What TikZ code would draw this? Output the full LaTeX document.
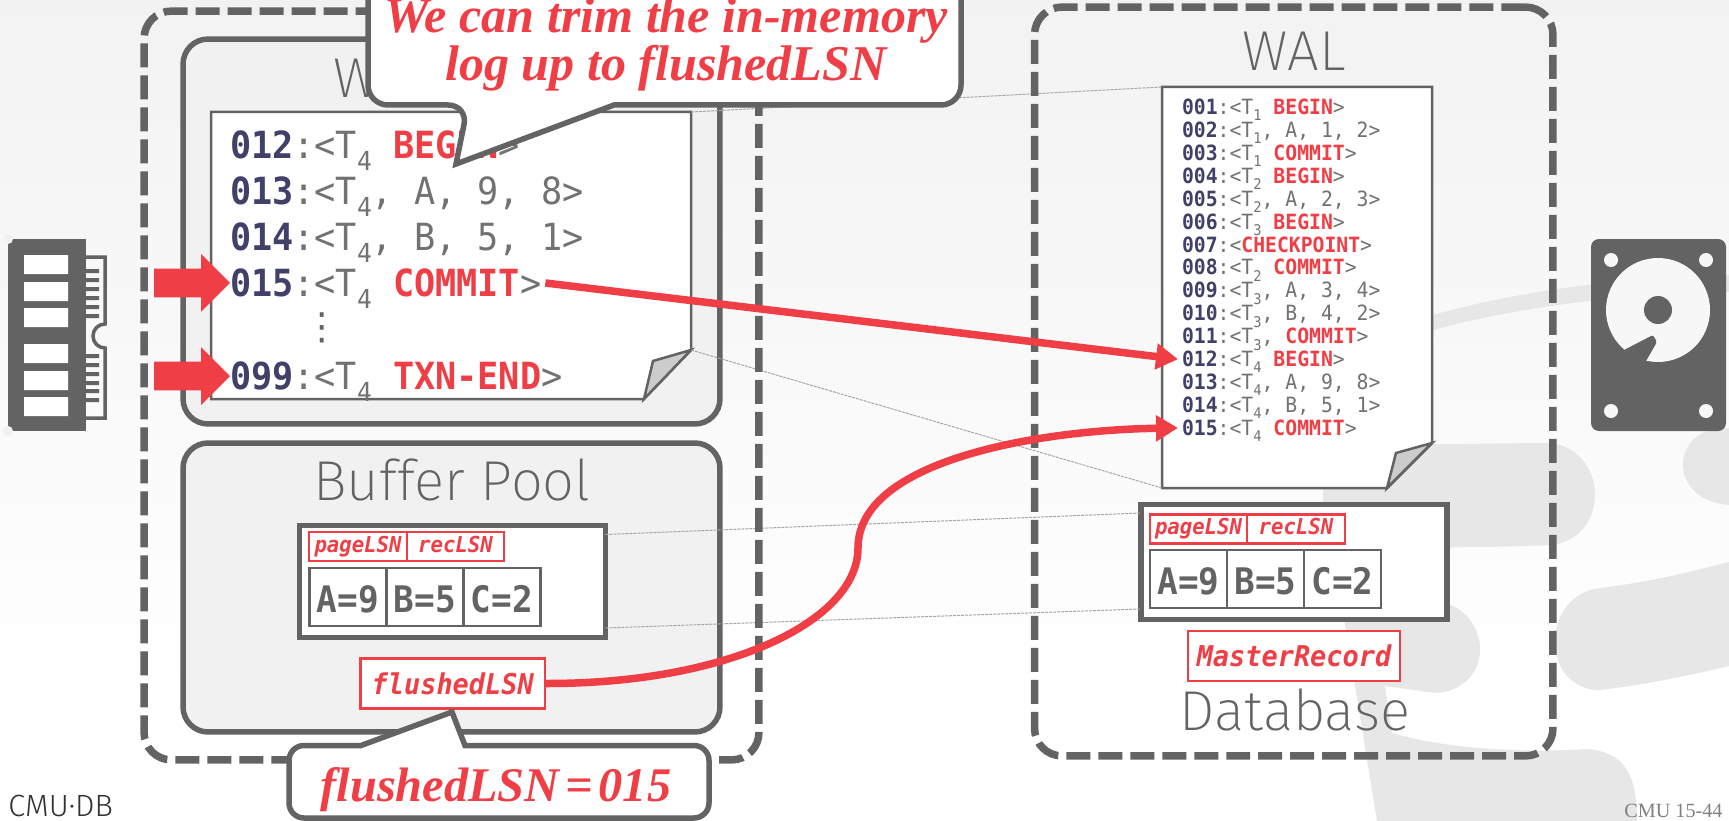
\documentclass[tikz,border=0pt]{standalone}
\usepackage{fontspec}
\usepackage{graphicx}
\usetikzlibrary{positioning,arrows.meta,shapes.arrows}
\setmainfont{Liberation Serif}
\setmonofont[FakeStretch=.94]{DejaVu Sans Mono}
\newfontfamily\slidethin{Fira Sans ExtraLight}
\newfontfamily\slidelogo{Fira Sans Light}
\newfontfamily\slidesym{DejaVu Sans}
\definecolor{slidegray}{HTML}{636363}
\definecolor{slidered}{HTML}{EF3E45}
\definecolor{lsnblue}{HTML}{404068}
\definecolor{boxfill}{HTML}{F1F1F1}
\definecolor{markgray}{HTML}{E7E7E7}
\newcommand{\lsn}[1]{\textcolor{lsnblue}{\bfseries #1}}
\newcommand{\kw}[1]{\textcolor{slidered}{\bfseries #1}}
\newcommand{\tsub}[1]{\raisebox{-.3em}{\scalebox{.7}{#1}}}
\newlength{\tightspace}
\setlength{\tightspace}{3.3pt}
\tikzset{
  outerbox/.style={draw=slidegray,line width=.15cm,rounded corners=.55cm,dash pattern=on .48cm off .16cm,inner sep=0pt,outer sep=0pt},
  bufbox/.style={draw=slidegray,line width=.11cm,rounded corners=.5cm,fill=boxfill,inner sep=0pt,outer sep=0pt},
  cachebox/.style={draw=slidegray,line width=.11cm,fill=white,inner sep=0pt,outer sep=0pt},
  sheet/.style={draw=slidegray,line width=.05cm,fill=white},
  sheetfold/.style={draw=slidegray,line width=.05cm,fill=gray!40},
  title/.style={font=\slidethin\fontsize{32}{36}\selectfont,text=slidegray,anchor=base,inner sep=0pt},
  memrow/.style={font=\ttfamily\fontsize{21.3}{25}\selectfont,text=slidegray!90,inner sep=0pt,outer sep=.08cm,text height=.56cm,text depth=0pt,anchor=west},
  walrow/.style={font=\ttfamily\fontsize{11.95}{14}\selectfont,text=slidegray!90,inner sep=0pt,outer sep=.08cm,text height=.3cm,text depth=0pt,anchor=west},
  lsnbox/.style={draw=slidered,line width=.045cm,fill=white,font=\ttfamily\bfseries\itshape\fontsize{12.5}{14}\selectfont,text=slidered,inner sep=0pt,outer sep=0pt,text height=.28cm,text depth=.06cm,minimum width=1.95cm,minimum height=.58cm},
  valbox/.style={draw=slidegray,line width=.05cm,fill=white,font=\ttfamily\bfseries\fontsize{20.8}{24}\selectfont,text=slidegray,inner sep=0pt,outer sep=0pt,text height=.64cm,text depth=0pt,minimum width=1.54cm,minimum height=1.16cm},
  metabox/.style={draw=slidered,line width=.05cm,fill=white,font=\ttfamily\bfseries\itshape\fontsize{16.3}{19}\selectfont,text=slidered,inner sep=0pt,outer sep=0pt,minimum height=1cm},
  blockarrow/.style={single arrow,fill=slidered,inner sep=0pt,outer sep=0pt,text height=.56cm,text depth=0pt,minimum height=1.52cm,single arrow head extend=.29cm,anchor=tip},
  flow/.style={draw=slidered,line width=.15cm,-{Triangle[length=.44cm,width=.5cm]}},
  linkline/.style={draw=gray!70,line width=.02cm,dash pattern=on .06cm off .02cm},
  callout/.style={draw=slidegray,line width=.11cm,fill=white},
  calltext/.style={font=\bfseries\itshape\fontsize{28.5}{27.3}\selectfont,text=slidered,inner sep=0pt}
}
\begin{document}
\begin{tikzpicture}[x=.02cm,y=-.02cm]
  \useasboundingbox (0,0) rectangle (1729,821);
  \clip (0,0) rectangle (1729,821);
  % backdrop
  \shade[top color=black!5,bottom color=white] (0,0) rectangle (1729,700);
  \fill[white] (0,700) rectangle (1729,821);
  \fill[markgray] (1433,315) .. controls (1500,296) and (1600,278) .. (1729,275) -- (1729,292) .. controls (1600,294) and (1500,312) .. (1433,330) -- cycle;
  \fill[markgray] (1323,443) .. controls (1400,446) and (1500,443) .. (1550,443) .. controls (1610,450) and (1610,540) .. (1550,545) .. controls (1480,548) and (1400,548) .. (1323,546) -- cycle;
  \fill[markgray] (1341,600) -- (1435,600) .. controls (1495,610) and (1495,690) .. (1435,693) -- (1385,686) -- (1392,733) .. controls (1450,750) and (1530,753) .. (1587,749) .. controls (1625,752) and (1637,775) .. (1637,821) -- (1377,821) -- cycle;
  \fill[markgray] (1600,588) .. controls (1650,582) and (1690,572) .. (1729,562) -- (1729,666) .. controls (1690,675) and (1650,684) .. (1600,690) .. controls (1540,690) and (1540,595) .. (1600,588) -- cycle;
  \fill[markgray] (1729,428) .. controls (1670,425) and (1665,500) .. (1729,505) -- cycle;

  % memory icon
  \fill[slidegray] (8,239) rectangle (86,431);
  \fill[boxfill] (8,239) circle (5) (8,431) circle (5);
  \fill[white] (24,255) rectangle (68,274) (24,282) rectangle (68,301) (24,308) rectangle (68,327);
  \fill[white] (24,344) rectangle (68,363) (24,371) rectangle (68,390) (24,397) rectangle (68,416);
  \draw[slidegray,line width=.07cm] (86,257) -- (105,257) -- (105,324) arc[start angle=90,end angle=270,radius=.24cm] -- (105,418) -- (86,418);
  \fill[slidegray] (86,269) rectangle (99,273) (86,278) rectangle (99,282) (86,287) rectangle (99,291);
  \fill[slidegray] (86,296) rectangle (99,300) (86,305) rectangle (99,309) (86,314) rectangle (99,318);
  \fill[slidegray] (86,354) rectangle (99,358) (86,363) rectangle (99,367) (86,372) rectangle (99,376);
  \fill[slidegray] (86,381) rectangle (99,385) (86,389) rectangle (99,393) (86,398) rectangle (99,402);

  % disk icon
  \fill[slidegray,rounded corners=.16cm] (1591,239) rectangle (1726,431);
  \fill[black!3] (1611,260) circle (7) (1706,260) circle (7) (1611,411) circle (7) (1706,411) circle (7);
  \fill[black!3] (1658,310) circle (52);
  \fill[slidegray] (1658,310) circle (14);
  \fill[slidegray,rounded corners=.04cm] (1624,350) -- (1653,335) -- (1657,342) -- (1646,361) -- (1630,380) -- (1605,365) -- cycle;

  % buffers
  \node[bufbox,minimum width=10.74cm,minimum height=7.7cm] (walbuf) at (451.5,231.5) {};
  \node[bufbox,minimum width=10.74cm,minimum height=5.78cm] (poolbuf) at (451.5,587.5) {};
  \node[title,anchor=base west] (waltitle) at (333,98) {W};
  \node[title] (pooltitle) at (452,500) {Buffer Pool};
  \node[title] (disktitle) at (1294,71) {WAL};
  \node[title] (dbtitle) at (1295,730) {Database};

  % log sheets
  \coordinate (memne) at (691,112);
  \coordinate (memfold) at (691,350);
  \coordinate (walnw) at (1162,87);
  \coordinate (walsw) at (1162,488);
  \draw[sheet] (211,112) -- (memne) -- (memfold) -- (644,399) -- (211,399) -- cycle;
  \draw[sheetfold] (memfold) -- (653,361) -- (644,399) -- cycle;
  \draw[sheet] (walnw) -- (1432,87) -- (1432,443) -- (1387,488) -- (walsw) -- cycle;
  \draw[sheetfold] (1432,443) -- (1396,453) -- (1387,488) -- cycle;

  % pages
  \node[cachebox,minimum width=6.12cm,minimum height=2.24cm] (mempage) at (452.5,581.5) {};
  \node[lsnbox] (mempagelsn) at (358,546.5) {pageLSN};
  \node[lsnbox,right=0pt of mempagelsn] (memreclsn) {recLSN};
  \node[valbox] (memA) at (348,597) {A=9};
  \node[valbox,right=0pt of memA] (memB) {B=5};
  \node[valbox,right=0pt of memB] (memC) {C=2};
  \node[cachebox,minimum width=6.13cm,minimum height=2.3cm] (dbpage) at (1294,562) {};
  \node[lsnbox] (dbpagelsn) at (1198.5,529) {pageLSN};
  \node[lsnbox,right=0pt of dbpagelsn] (dbreclsn) {recLSN};
  \node[valbox] (dbA) at (1188.5,579) {A=9};
  \node[valbox,right=0pt of dbA] (dbB) {B=5};
  \node[valbox,right=0pt of dbB] (dbC) {C=2};
  \node[metabox,minimum width=3.69cm] (flushed) at (452.75,683.5) {flushedLSN};
  \node[metabox,minimum width=4.24cm] (master) at (1294,656) {MasterRecord};

  % links between the two sides
  \draw[linkline] (memne) -- (walnw);
  \draw[linkline] (memfold) -- (walsw);
  \draw[linkline] ([yshift=-.18cm]mempage.north east) -- ([yshift=-.17cm]dbpage.north west);
  \draw[linkline] ([yshift=.19cm]mempage.south east) -- ([yshift=.21cm]dbpage.south west);

  % stable storage
  \node[outerbox,minimum width=12.3cm,minimum height=14.98cm] (memside) at (451.5,385.5) {};
  \node[outerbox,minimum width=10.37cm,minimum height=14.98cm] (diskside) at (1293.75,381.5) {};

  % in-memory log
  \node[memrow] (m012) at (226,145) {\lsn{012}:<T\tsub{4} \kw{BEGIN}>};
  \node[below=.92cm of m012.west,memrow] (m013) {\lsn{013}:<T\tsub{4}, A, 9, 8>};
  \node[below=.92cm of m013.west,memrow] (m014) {\lsn{014}:<T\tsub{4}, B, 5, 1>};
  \node[below=.92cm of m014.west,memrow] (m015) {\lsn{015}:<T\tsub{4} \kw{COMMIT}>};
  \node[font=\slidesym\fontsize{21.3}{25}\selectfont,text=slidegray,inner sep=0pt] (mdots) at (322,328) {⋮};
  \node[memrow] (m099) at (226,376) {\lsn{099}:<T\tsub{4} \kw{TXN-END}>};

  % log on disk
  \node[walrow] (w001) at (1178,107) {\lsn{001}:<T\tsub{1} \kw{BEGIN}>};
  \node[below=.4586cm of w001.west,walrow] (w002) {\lsn{002}:<T\tsub{1}, A, 1, 2>};
  \node[below=.4586cm of w002.west,walrow] (w003) {\lsn{003}:<T\tsub{1} \kw{COMMIT}>};
  \node[below=.4586cm of w003.west,walrow] (w004) {\lsn{004}:<T\tsub{2} \kw{BEGIN}>};
  \node[below=.4586cm of w004.west,walrow] (w005) {\lsn{005}:<T\tsub{2}, A, 2, 3>};
  \node[below=.4586cm of w005.west,walrow] (w006) {\lsn{006}:<T\tsub{3} \kw{BEGIN}>};
  \node[below=.4586cm of w006.west,walrow] (w007) {\lsn{007}:<\kw{CHECKPOINT}>};
  \node[below=.4586cm of w007.west,walrow] (w008) {\lsn{008}:<T\tsub{2} \kw{COMMIT}>};
  \node[below=.4586cm of w008.west,walrow] (w009) {\lsn{009}:<T\tsub{3}, A, 3, 4>};
  \node[below=.4586cm of w009.west,walrow] (w010) {\lsn{010}:<T\tsub{3}, B, 4, 2>};
  \node[below=.4586cm of w010.west,walrow] (w011) {\lsn{011}:<T\tsub{3}, \kw{COMMIT}>};
  \node[below=.4586cm of w011.west,walrow] (w012) {\lsn{012}:<T\tsub{4} \kw{BEGIN}>};
  \node[below=.4586cm of w012.west,walrow] (w013) {\lsn{013}:<T\tsub{4}, A, 9, 8>};
  \node[below=.4586cm of w013.west,walrow] (w014) {\lsn{014}:<T\tsub{4}, B, 5, 1>};
  \node[below=.4586cm of w014.west,walrow] (w015) {\lsn{015}:<T\tsub{4} \kw{COMMIT}>};

  % arrows
  \node[blockarrow] (ptrcommit) at ([xshift=.08cm]m015.west) {};
  \node[blockarrow] (ptrend) at ([xshift=.08cm]m099.west) {};
  \draw[flow] (m015.east) -- (w012.west);
  \draw[flow] (flushed.east) .. controls (730,684) and (858,620) .. (858,548) .. controls (858,460) and (1040,430) .. (w015.west);

  % callouts
  \draw[callout] (368,-40) [rounded corners=.4cm] -- (368,105) -- (468,105) [sharp corners] -- (456,164) -- (614,105) [rounded corners=.4cm] -- (961,105) -- (961,-40) -- cycle;
  \node[calltext,align=center] (trimnote) at (666,44) {We can trim the in-memory\\log up to flushedLSN};
  \draw[callout] (361,745.5) [rounded corners=.3cm] -- (289,745.5) -- (289,818) -- (709,818) -- (709,745.5) [sharp corners] -- (465,745.5) -- (452,712) -- cycle;
  \node[calltext,anchor=base,font=\bfseries\itshape\fontsize{27.5}{30}\selectfont] (flushnote) at (496,801) {\spaceskip=\tightspace flushedLSN = 015};

  % footer
  \node[font=\slidelogo\fontsize{17.5}{20}\selectfont,text=black!80,anchor=base west,inner sep=0pt] (cmulogo) at (8,816) {CMU·DB};
  \node[font=\fontsize{11.5}{14}\selectfont,text=gray,anchor=base west,inner sep=0pt] (course) at (1624,817) {CMU 15-44};
\end{tikzpicture}
\end{document}
